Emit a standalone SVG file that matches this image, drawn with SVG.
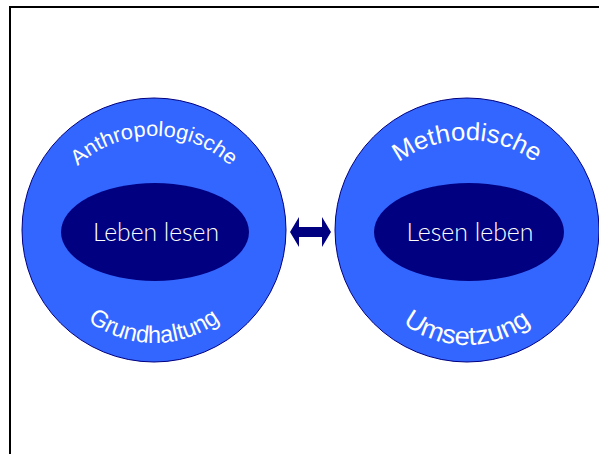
<svg xmlns="http://www.w3.org/2000/svg" width="599" height="454" viewBox="0 0 599 454">
  <style>
    .outer { fill: #3366FF; stroke: #000080; stroke-width: 1; }
    .inner { fill: #000080; }
    .label { fill: #FFFFFF; font-family: "Liberation Sans", Arial, sans-serif; }
    .core { font-family: Lato, "Liberation Sans", Arial, sans-serif; font-weight: 300; font-size: 26px; text-anchor: middle; }
    .arc { text-anchor: middle; }
  </style>
  <defs>
    <!-- baselines for the curved captions -->
    <path id="arcTopL" d="M 42 248 A 112 112 0 0 1 266 248"/>
    <path id="arcBotL" d="M 44 233 A 110 110 0 0 0 264 233"/>
    <path id="arcTopR" d="M 352 255 A 115 115 0 0 1 582 255"/>
    <path id="arcBotR" d="M 362 240 A 105 105 0 0 0 572 240"/>
  </defs>
  <rect x="10" y="7" width="700" height="500" fill="#FFFFFF" stroke="#000000" stroke-width="2"/>

  <g id="node-left">
    <circle class="outer" cx="154" cy="230" r="132"/>
    <ellipse class="inner" cx="155" cy="232" rx="94" ry="49"/>
    <text class="label core" x="156" y="241" textLength="126" lengthAdjust="spacingAndGlyphs">Leben lesen</text>
    <text class="label arc" font-size="21"><textPath href="#arcTopL" startOffset="50%" textLength="168" lengthAdjust="spacingAndGlyphs">Anthropologische</textPath></text>
    <text class="label arc" font-size="24"><textPath href="#arcBotL" startOffset="50%" textLength="142" lengthAdjust="spacingAndGlyphs">Grundhaltung</textPath></text>
  </g>

  <g id="node-right">
    <circle class="outer" cx="467" cy="230" r="132"/>
    <ellipse class="inner" cx="469" cy="232" rx="95" ry="49"/>
    <text class="label core" x="470" y="241" textLength="127" lengthAdjust="spacingAndGlyphs">Lesen leben</text>
    <text class="label arc" font-size="25"><textPath href="#arcTopR" startOffset="50%" textLength="146" lengthAdjust="spacingAndGlyphs">Methodische</textPath></text>
    <text class="label arc" font-size="26"><textPath href="#arcBotR" startOffset="50%" textLength="138" lengthAdjust="spacingAndGlyphs">Umsetzung</textPath></text>
  </g>

  <g id="connectors">
    <polygon fill="#000080" points="290,232 299,217 299,227 322,227 322,217 331,232 322,247 322,237 299,237 299,247"/>
  </g>
</svg>
